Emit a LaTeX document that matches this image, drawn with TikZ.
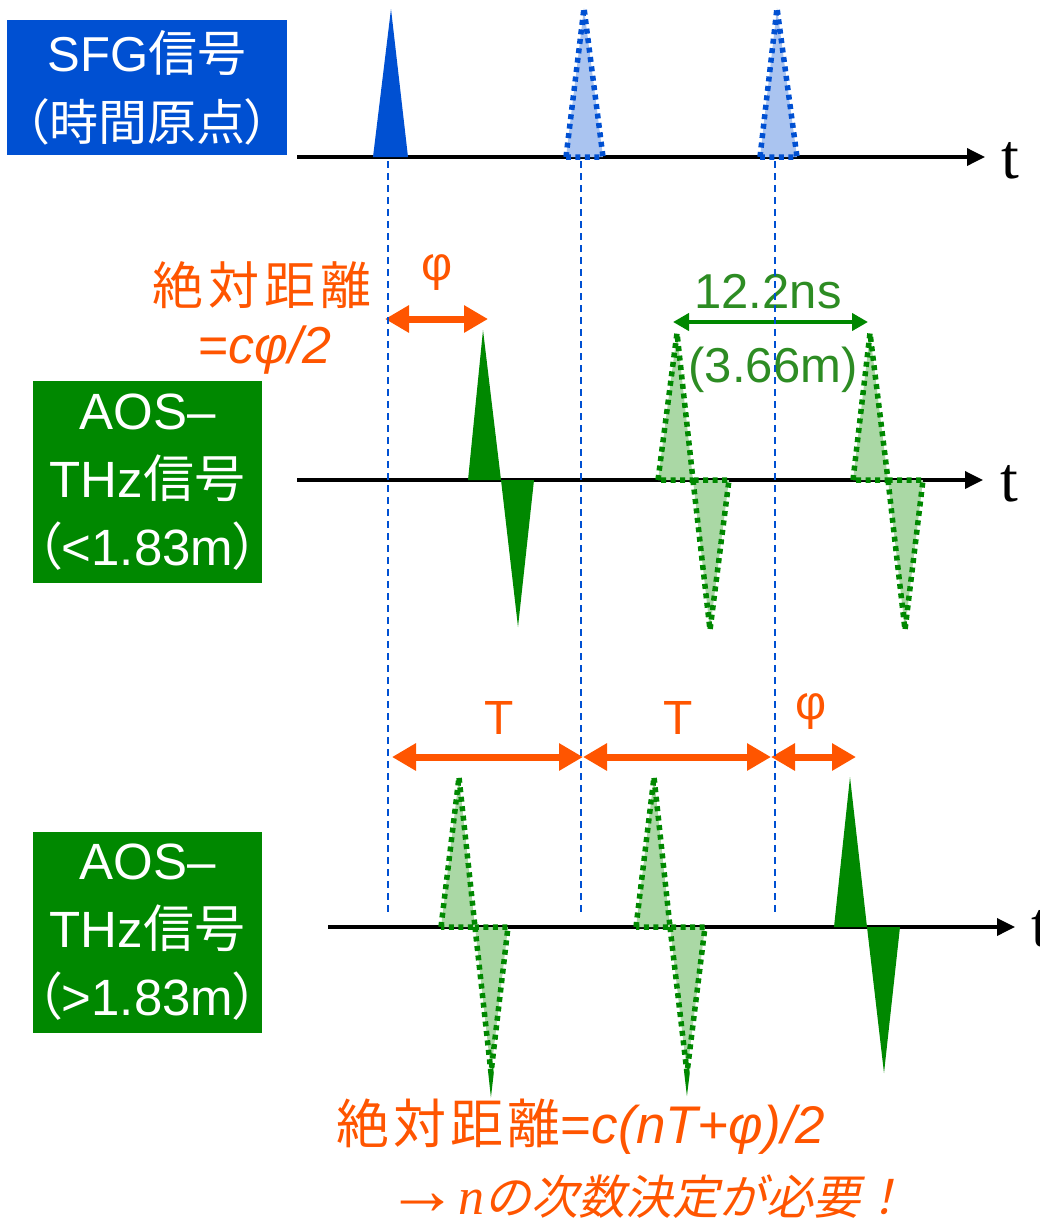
\documentclass[tikz,border=0pt]{standalone}
\usepackage{fontspec}
\setmainfont{Liberation Sans}
\newfontfamily\jp[RawFeature=+palt]{Noto Sans CJK JP}
\newfontfamily\jpsl[FakeSlant=0.22]{Noto Sans CJK JP}
\newfontfamily\tser{Liberation Serif}
\usetikzlibrary{arrows.meta}
\definecolor{sfgblue}{RGB}{0,80,210}
\definecolor{sfglight}{RGB}{170,196,240}
\definecolor{thzgreen}{RGB}{0,136,0}
\definecolor{thzlight}{RGB}{170,216,165}
\definecolor{lblgreen}{RGB}{45,140,35}
\definecolor{dimorange}{RGB}{255,85,0}
\tikzset{
  labelbox/.style={text=white, inner sep=0pt, align=center, font=\fontsize{51}{68}\selectfont},
  axisline/.style={line width=3.5pt, -{Triangle[length=18pt,width=17pt]}},
  tlabel/.style={font=\tser\fontsize{64}{64}\selectfont, inner sep=0pt},
  guide/.style={sfgblue, line width=2pt, dash pattern=on 7pt off 5pt},
  solidblue/.style={fill=sfgblue},
  dotblue/.style={fill=sfglight, draw=sfgblue, line width=5.5pt, dash pattern=on 5pt off 4.5pt},
  solidgreen/.style={fill=thzgreen},
  dotgreen/.style={fill=thzlight, draw=thzgreen, line width=5.5pt, dash pattern=on 5pt off 4.5pt},
  dimarrow/.style={dimorange, line width=7pt, {Triangle[length=24pt,width=26pt]}-{Triangle[length=24pt,width=26pt]}},
  greendim/.style={thzgreen, line width=4pt, {Triangle[length=16pt,width=17pt]}-{Triangle[length=16pt,width=17pt]}},
  orangetext/.style={text=dimorange, inner sep=0pt},
  greentext/.style={text=lblgreen, inner sep=0pt, font=\fontsize{49}{49}\selectfont}
}
\begin{document}
\begin{tikzpicture}[x=1pt,y=-1pt]
\useasboundingbox (0,0) rectangle (1040,1221);

% label boxes
\node[labelbox, fill=sfgblue, minimum width=280pt, minimum height=135pt,
      font=\fontsize{49}{69}\selectfont] (sfg) at (147,87.5)
  {SFG{\jp 信号}\\{\jp （時間原点）}};
\node[labelbox, fill=thzgreen, minimum width=229pt, minimum height=202pt] (thz1) at (147.5,482)
  {AOS–\\THz{\jp 信号}\\{\jp （}<1.83m{\jp ）}};
\node[labelbox, fill=thzgreen, minimum width=229pt, minimum height=201pt] (thz2) at (147.5,932.5)
  {AOS–\\THz{\jp 信号}\\{\jp （}>1.83m{\jp ）}};

% axes
\coordinate (a1s) at (297,157); \coordinate (a1e) at (985,157);
\coordinate (a2s) at (297,480); \coordinate (a2e) at (983,480);
\coordinate (a3s) at (328,927); \coordinate (a3e) at (1015,927);
\draw[axisline] (a1s) -- (a1e);
\draw[axisline] (a2s) -- (a2e);
\draw[axisline] (a3s) -- (a3e);
\node[tlabel] (t1) at (1010,161) {t};
\node[tlabel] (t2) at (1009,484) {t};
\node[tlabel, anchor=west] (t3) at (1031,929) {t};

% SFG pulses
\fill[solidblue] (373,157) -- (391,9) -- (408,157) -- cycle;
\filldraw[dotblue] (566,157) -- (584,8) -- (603,157) -- cycle;
\filldraw[dotblue] (760,157) -- (777,8) -- (797,157) -- cycle;

% AOS-THz (<1.83m) pulses
\fill[solidgreen] (468,480) -- (483,330) -- (501,480) -- cycle;
\fill[solidgreen] (501,480) -- (518,627) -- (534,480) -- cycle;
\filldraw[dotgreen] (658,480) -- (677,333) -- (693,480) -- cycle;
\filldraw[dotgreen] (693,480) -- (710,630) -- (729,480) -- cycle;
\filldraw[dotgreen] (853,480) -- (870,333) -- (888,480) -- cycle;
\filldraw[dotgreen] (888,480) -- (905,630) -- (923,480) -- cycle;

% AOS-THz (>1.83m) pulses
\filldraw[dotgreen] (441,927) -- (459,777) -- (475,927) -- cycle;
\filldraw[dotgreen] (475,927) -- (491,1073) -- (508,927) -- cycle;
\filldraw[dotgreen] (636,927) -- (654,777) -- (670,927) -- cycle;
\filldraw[dotgreen] (670,927) -- (687,1073) -- (705,927) -- cycle;
\fill[solidgreen] (834,927) -- (850,777) -- (867,927) -- cycle;
\fill[solidgreen] (867,927) -- (884,1073) -- (900,927) -- cycle;

% dimension arrows
\coordinate (p1a) at (385,319); \coordinate (p1b) at (488,319);
\draw[dimarrow] (p1a) -- (p1b);
\node[orangetext, font=\fontsize{48}{48}\selectfont] (phi1) at (437,273) {φ};

\coordinate (g1a) at (673,322); \coordinate (g1b) at (868,322);
\draw[greendim] (g1a) -- (g1b);
\node[greentext] (ns) at (768,292) {12.2ns};
\node[greentext] (m) at (773,370) {(3.66m)};

\coordinate (b1) at (392,757); \coordinate (b2) at (583,757);
\coordinate (b3) at (771,757); \coordinate (b4) at (856,757);
\draw[dimarrow] (b1) -- (b2);
\draw[dimarrow] (b2) -- (b3);
\draw[dimarrow] (b3) -- (b4);
\node[orangetext, font=\fontsize{48}{48}\selectfont] (T1) at (499,718) {T};
\node[orangetext, font=\fontsize{48}{48}\selectfont] (T2) at (678,718) {T};
\node[orangetext, font=\fontsize{48}{48}\selectfont] (phi2) at (811,712) {φ};

% orange texts
\node[orangetext, font=\jp\fontsize{51}{51}\selectfont, text width=219pt] (abs1) at (262,285)
  {絶\hfill 対\hfill 距\hfill 離};
\node[orangetext, font=\fontsize{52}{52}\selectfont] (abs2) at (265,350) {=\textit{cφ/2}};
\node[orangetext, anchor=west, font=\fontsize{53}{53}\selectfont] (eq) at (336,1127)
  {{\jp\addfontfeatures{LetterSpace=8} 絶対距離}=\textit{c(nT+φ)/2}};
\node[orangetext, anchor=west, font=\fontsize{47}{47}\selectfont] (need) at (386,1197)
  {{\tser\fontsize{72}{72}\selectfont →}{\tser\itshape\fontsize{52}{52}\selectfont n}{\jpsl の次数決定が必要！}};

% guide lines
\coordinate (d1t) at (388,161); \coordinate (d1b) at (388,913);
\coordinate (d2t) at (581,161); \coordinate (d2b) at (581,913);
\coordinate (d3t) at (775,161); \coordinate (d3b) at (775,913);
\draw[guide] (d1t) -- (d1b);
\draw[guide] (d2t) -- (d2b);
\draw[guide] (d3t) -- (d3b);
\end{tikzpicture}
\end{document}
